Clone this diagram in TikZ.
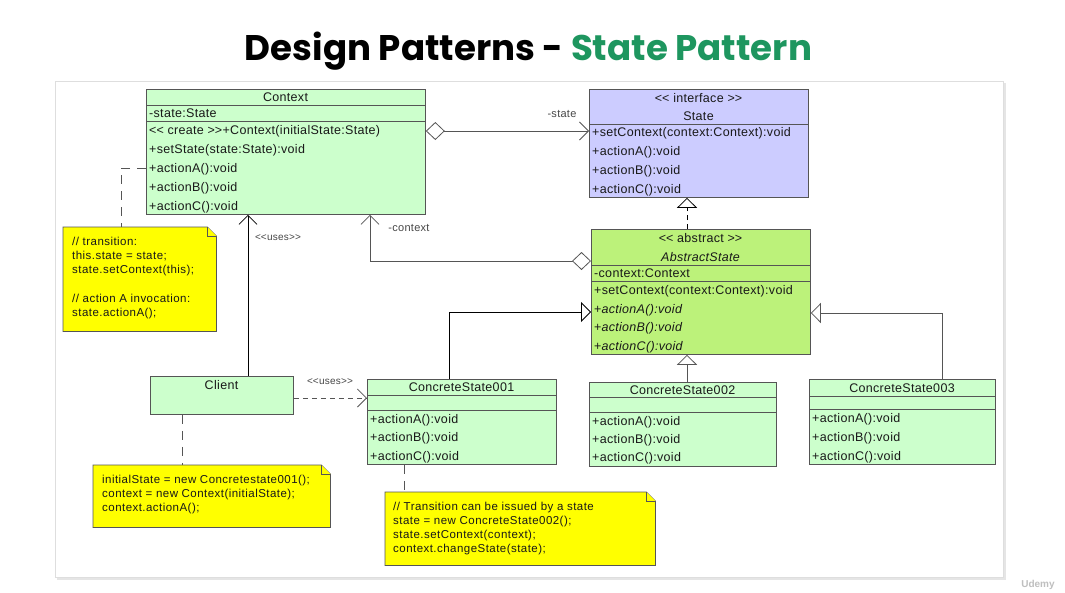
\documentclass[tikz,border=0pt]{standalone}
\usepackage{fontspec}
\setmainfont{Liberation Sans}
\newfontfamily\titlefont{Poppins}
\newfontfamily\clsfont{Liberation Sans}[LetterSpace=2.5]
\newfontfamily\notefont{Liberation Sans}[LetterSpace=4]
\usetikzlibrary{arrows.meta,calc}
\definecolor{clsgreen}{RGB}{204,255,204}
\definecolor{ifcblue}{RGB}{204,204,255}
\definecolor{absgreen}{RGB}{188,242,122}
\definecolor{noteyellow}{RGB}{255,255,0}
\definecolor{linec}{RGB}{85,85,85}
\definecolor{titlegreen}{RGB}{30,150,95}
\definecolor{txtc}{RGB}{25,25,25}
\newcommand\dlt{<\kern0pt<}
\newcommand\dgt{>\kern0pt>}
\begin{document}
\begin{tikzpicture}[x=1pt,y=-1pt,
  cls/.style={draw=linec, line width=0.8pt, inner sep=0pt, anchor=north west},
  ct/.style={font=\clsfont\fontsize{12.5}{14}\selectfont, text=txtc, inner sep=0pt, anchor=base west},
  cttl/.style={font=\clsfont\fontsize{12.5}{14}\selectfont, text=txtc, inner sep=0pt, anchor=base},
  nt/.style={font=\notefont\fontsize{11.5}{14}\selectfont, text=txtc, inner sep=0pt, anchor=base west},
  lbl/.style={font=\clsfont\fontsize{11}{13}\selectfont, text=txtc!80, inner sep=0pt, anchor=base},
  sepl/.style={draw=linec, line width=0.8pt},
  conn/.style={draw=linec, line width=0.8pt},
  bconn/.style={draw=black, line width=0.8pt},
  notebox/.style={inner sep=0pt, anchor=north west},
  notestyle/.style={draw=linec, line width=0.8pt, fill=noteyellow},
  notelink/.style={draw=linec, line width=0.8pt, dash pattern=on 9pt off 7pt},
  usesdash/.style={dash pattern=on 5pt off 4pt},
  opentri/.style={-{Triangle[open,length=10pt,width=20pt,fill=white]}},
  barb/.style={-{Straight Barb[length=9pt,width=18pt]}},
  diam/.style={{Diamond[open,length=19pt,width=18pt,fill=white]}-{Straight Barb[length=9pt,width=18pt]}}
]
\useasboundingbox (0,0) rectangle (1065,592);
\fill[white] (0,0) rectangle (1065,592);
% panel
\fill[black!10] (57,83) rectangle (1006,580);
\node[cls, draw=black!13, fill=white, minimum width=948pt, minimum height=496pt] (panel) at (55,81) {};

% title
\node[anchor=base, font=\titlefont\bfseries, inner sep=0pt] (title) at (528.5,60)
  {\resizebox{567pt}{!}{Design Patterns - \textcolor{titlegreen}{State Pattern}}};
\node[font=\fontsize{10}{12}\selectfont\bfseries, text=black!25, anchor=base, inner sep=0pt] (udemy) at (1038,587) {Udemy};

% Context
\node[cls, fill=clsgreen, minimum width=279pt, minimum height=125pt] (ctx) at (146,89) {};
\draw[sepl] (ctx.west |- 0,105) -- (ctx.east |- 0,105);
\draw[sepl] (ctx.west |- 0,121) -- (ctx.east |- 0,121);
\node[cttl] (ctx-t) at (285.5,101.5) {Context};
\node[ct] (ctx-a) at (149,117.5) {-state:State};
\node[ct] (ctx-m0) at (149,134.5) {\dlt{} create \dgt+Context(initialState:State)};
\node[ct] (ctx-m1) at (149,153.5) {+setState(state:State):void};
\node[ct] (ctx-m2) at (149,172.5) {+actionA():void};
\node[ct] (ctx-m3) at (149,191.5) {+actionB():void};
\node[ct] (ctx-m4) at (149,210.5) {+actionC():void};

% State interface
\node[cls, fill=ifcblue, minimum width=219pt, minimum height=108pt] (st) at (589,89) {};
\draw[sepl] (st.west |- 0,124) -- (st.east |- 0,124);
\node[cttl] (st-s) at (698.5,102.5) {\dlt{} interface \dgt};
\node[cttl] (st-t) at (698.5,120.5) {State};
\node[ct] (st-m0) at (592,136.5) {+setContext(context:Context):void};
\node[ct] (st-m1) at (592,155.5) {+actionA():void};
\node[ct] (st-m2) at (592,174.5) {+actionB():void};
\node[ct] (st-m3) at (592,193.5) {+actionC():void};

% AbstractState
\node[cls, fill=absgreen, minimum width=219pt, minimum height=125pt] (abs) at (591,229) {};
\draw[sepl] (abs.west |- 0,265) -- (abs.east |- 0,265);
\draw[sepl] (abs.west |- 0,281) -- (abs.east |- 0,281);
\node[cttl] (abs-s) at (700.5,242.5) {\dlt{} abstract \dgt};
\node[cttl] (abs-t) at (700.5,261.5) {\itshape AbstractState};
\node[ct] (abs-a) at (594,277.5) {-context:Context};
\node[ct] (abs-m0) at (594,294.5) {+setContext(context:Context):void};
\node[ct] (abs-m1) at (594,313.5) {+\textit{actionA():void}};
\node[ct] (abs-m2) at (594,331.5) {+\textit{actionB():void}};
\node[ct] (abs-m3) at (594,350.5) {+\textit{actionC():void}};

% Client
\node[cls, fill=clsgreen, minimum width=143pt, minimum height=38pt] (cl) at (150,376) {};
\node[cttl] (cl-t) at (221.5,389.5) {Client};

% ConcreteState001
\node[cls, fill=clsgreen, minimum width=189pt, minimum height=85pt] (cs1) at (367,379) {};
\draw[sepl] (cs1.west |- 0,395) -- (cs1.east |- 0,395);
\draw[sepl] (cs1.west |- 0,410) -- (cs1.east |- 0,410);
\node[cttl] (cs1-t) at (461.5,391.5) {ConcreteState001};
\node[ct] (cs1-m1) at (370,423.5) {+actionA():void};
\node[ct] (cs1-m2) at (370,441.5) {+actionB():void};
\node[ct] (cs1-m3) at (370,460.5) {+actionC():void};

% ConcreteState002
\node[cls, fill=clsgreen, minimum width=187pt, minimum height=84pt] (cs2) at (589,382) {};
\draw[sepl] (cs2.west |- 0,397) -- (cs2.east |- 0,397);
\draw[sepl] (cs2.west |- 0,412) -- (cs2.east |- 0,412);
\node[cttl] (cs2-t) at (682.5,394.5) {ConcreteState002};
\node[ct] (cs2-m1) at (592,425.5) {+actionA():void};
\node[ct] (cs2-m2) at (592,443.5) {+actionB():void};
\node[ct] (cs2-m3) at (592,461.5) {+actionC():void};

% ConcreteState003
\node[cls, fill=clsgreen, minimum width=186pt, minimum height=85pt] (cs3) at (809,379) {};
\draw[sepl] (cs3.west |- 0,396) -- (cs3.east |- 0,396);
\draw[sepl] (cs3.west |- 0,409) -- (cs3.east |- 0,409);
\node[cttl] (cs3-t) at (902,392.5) {ConcreteState003};
\node[ct] (cs3-m1) at (812,422.5) {+actionA():void};
\node[ct] (cs3-m2) at (812,441.5) {+actionB():void};
\node[ct] (cs3-m3) at (812,460.5) {+actionC():void};

% Notes
\node[notebox, minimum width=153pt, minimum height=104pt] (n1) at (63,227) {};
\draw[notestyle] (n1.north west) -- ($(n1.north east)+(-9,0)$) -- ($(n1.north east)+(0,9)$) -- (n1.south east) -- (n1.south west) -- cycle;
\draw[notestyle] ($(n1.north east)+(-9,0)$) -- ($(n1.north east)+(-9,9)$) -- ($(n1.north east)+(0,9)$);
\node[nt] (n1-l1) at (72,245) {// transition:};
\node[nt] (n1-l2) at (72,259) {this.state = state;};
\node[nt] (n1-l3) at (72,273) {state.setContext(this);};
\node[nt] (n1-l4) at (72,302) {// action A invocation:};
\node[nt] (n1-l5) at (72,316) {state.actionA();};

\node[notebox, minimum width=237pt, minimum height=62pt] (n2) at (93,465) {};
\draw[notestyle] (n2.north west) -- ($(n2.north east)+(-9,0)$) -- ($(n2.north east)+(0,9)$) -- (n2.south east) -- (n2.south west) -- cycle;
\draw[notestyle] ($(n2.north east)+(-9,0)$) -- ($(n2.north east)+(-9,9)$) -- ($(n2.north east)+(0,9)$);
\node[nt] (n2-l1) at (102,483) {initialState = new Concretestate001();};
\node[nt] (n2-l2) at (102,497) {context = new Context(initialState);};
\node[nt] (n2-l3) at (102,511) {context.actionA();};

\node[notebox, minimum width=270pt, minimum height=73pt] (n3) at (385,492) {};
\draw[notestyle] (n3.north west) -- ($(n3.north east)+(-9,0)$) -- ($(n3.north east)+(0,9)$) -- (n3.south east) -- (n3.south west) -- cycle;
\draw[notestyle] ($(n3.north east)+(-9,0)$) -- ($(n3.north east)+(-9,9)$) -- ($(n3.north east)+(0,9)$);
\node[nt] (n3-l1) at (393,510) {// Transition can be issued by a state};
\node[nt] (n3-l2) at (393,524) {state = new ConcreteState002();};
\node[nt] (n3-l3) at (393,538) {state.setContext(context);};
\node[nt] (n3-l4) at (393,552) {context.changeState(state);};

% Connectors
\draw[conn, diam] (ctx.east |- 0,131) -- (st.west |- 0,131);
\node[lbl] (l-state) at (562,117) {-state};
\draw[conn, diam] (abs.west |- 0,261) -| (ctx.south -| 370,0);
\node[lbl] (l-ctx) at (409,231) {-context};
\draw[bconn, usesdash, opentri] (abs.north -| 687,0) -- (st.south -| 687,0);
\draw[bconn, opentri] (cs1.north -| 449,0) |- (abs.west |- 0,312);
\draw[conn, opentri] (cs2.north -| 687,0) -- (abs.south -| 687,0);
\draw[conn, opentri] (cs3.north -| 942,0) |- (abs.east |- 0,313);
\draw[bconn, barb] (cl.north -| 248,0) -- (ctx.south -| 248,0);
\node[lbl, font=\clsfont\fontsize{10}{12}\selectfont] (l-uses1) at (278,240) {\dlt uses\dgt};
\draw[conn, usesdash, barb] (cl.east |- 0,398) -- (cs1.west |- 0,398);
\node[lbl, font=\clsfont\fontsize{10}{12}\selectfont] (l-uses2) at (330,384) {\dlt uses\dgt};
% note links
\draw[notelink] (ctx.west |- 0,168) -| (n1.north -| 121,0);
\draw[notelink] (cl.south -| 182,0) -- (n2.north -| 182,0);
\draw[notelink] (cs1.south -| 404,0) -- (n3.north -| 404,0);
\end{tikzpicture}
\end{document}
